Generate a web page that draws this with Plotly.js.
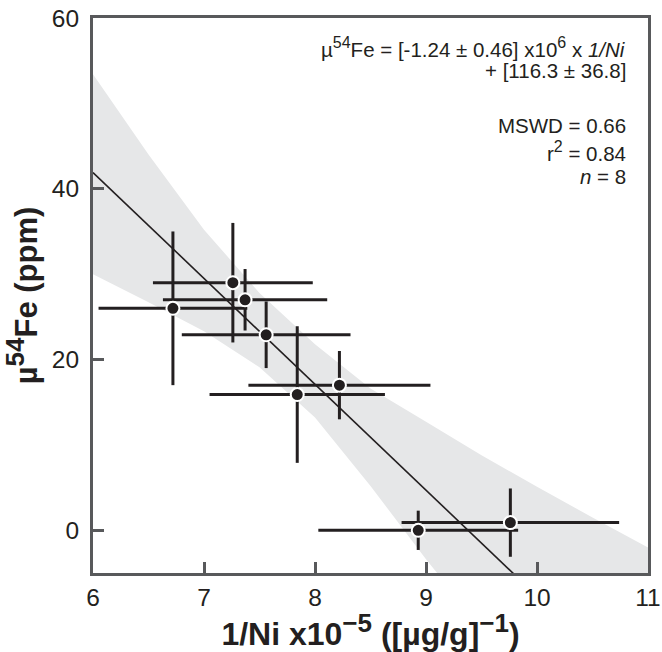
<!DOCTYPE html>
<html>
<head>
<meta charset="utf-8">
<script src="https://cdn.plot.ly/plotly-3.0.1.min.js"></script>
<style>html,body{margin:0;padding:0;background:#fff;}#chart{width:662px;height:652px;}</style>
</head>
<body>
<div id="chart"></div>
<script>
// Data points: 1/Ni x10^-5 and µ54Fe (ppm), with 2-sigma error bars
const xVals = [7.26, 7.37, 6.72, 7.56, 7.84, 8.22, 8.93, 9.76];
const yVals = [29.0, 27.0, 26.0, 22.9, 15.9, 17.0, 0.0, 0.9];
const xErr  = [0.72, 0.74, 0.67, 0.76, 0.79, 0.82, 0.90, 0.98];
const yErr  = [7.0, 3.6, 9.0, 3.9, 8.0, 4.0, 2.3, 4.0];

// Confidence envelope
const bandUpperX = [6, 6.5, 7, 7.5, 8, 8.5, 9, 9.5, 10, 10.5, 11];
const bandUpper  = [53.4, 44.0, 35.2, 27.8, 21.8, 16.6, 12.7, 8.8, 5.1, 1.5, -2.0];
const bandLowerX = [6, 6.5, 7, 7.5, 8, 8.5, 9, 9.1, 11];
const bandLower  = [30.0, 26.7, 23.3, 19.1, 13.2, 5.2, -3.4, -5, -5];

// Regression (from the equation shown on the chart)
const fitSlope = -12.4;
const fitIntercept = 116.3;
const fitX = [6, 11];

const xTicks = [6, 7, 8, 9, 10, 11];
const yTicks = [0, 20, 40, 60];

const ink = '#231f20';
const axisCol = '#58595b';
const FONT = '"Liberation Sans", Arial, Helvetica, sans-serif';

const bandTrace = {
  x: bandUpperX.concat(bandLowerX.slice().reverse()),
  y: bandUpper.concat(bandLower.slice().reverse()),
  type: 'scatter', mode: 'lines', fill: 'toself',
  fillcolor: '#e6e7e8', line: {width: 0, color: 'rgba(0,0,0,0)'},
  hoverinfo: 'skip', showlegend: false
};
const fitTrace = {
  x: fitX, y: fitX.map(v => fitSlope * v + fitIntercept),
  type: 'scatter', mode: 'lines',
  line: {color: ink, width: 1.6}, showlegend: false, hoverinfo: 'skip'
};
const pts = {
  x: xVals, y: yVals, type: 'scatter', mode: 'markers',
  marker: {color: ink, size: 13, line: {color: '#ffffff', width: 2}},
  error_x: {type: 'data', array: xErr, visible: true, color: ink, thickness: 3, width: 0},
  error_y: {type: 'data', array: yErr, visible: true, color: ink, thickness: 3, width: 0},
  showlegend: false
};

const supA = s => '<sup><span style="font-size:16px">' + s + '</span></sup>';
const annFont = {family: FONT, size: 20.5, color: ink};
const annLines = [
  {t: 'µ' + supA('54') + 'Fe = [-1.24 ± 0.46] x10' + supA('6') + ' x <i>1/Ni</i>', y: 56.5},
  {t: '+ [116.3 ± 36.8]', y: 53.8},
  {t: 'MSWD = 0.66', y: 47.45},
  {t: 'r' + supA('2') + ' = 0.84', y: 44.4},
  {t: '<i>n</i> = 8', y: 41.4}
];
const annotations = annLines.map(a => ({
  x: 10.82, y: a.y, xref: 'x', yref: 'y', text: a.t, showarrow: false,
  xanchor: 'right', yanchor: 'middle', align: 'right', font: annFont
}));

const supT = s => '<sup><span style="font-size:26px">' + s + '</span></sup>';

const layout = {
  width: 662, height: 652,
  margin: {l: 93, r: 14, t: 18, b: 79},
  paper_bgcolor: '#ffffff', plot_bgcolor: '#ffffff',
  font: {family: FONT, color: ink},
  showlegend: false,
  xaxis: {
    range: [6, 11], tickvals: xTicks, ticktext: xTicks.map(String),
    showgrid: false, zeroline: false,
    showline: true, linecolor: axisCol, linewidth: 3, mirror: true,
    ticks: 'inside', ticklen: 11, tickwidth: 3, tickcolor: axisCol,
    tickfont: {family: FONT, size: 24.5, color: ink},
    ticklabelstandoff: 1,
    title: {text: '<b>1/Ni x10' + supT('−5') + ' ([µg/g]' + supT('−1') + ')</b>', font: {family: FONT, size: 32, color: ink}, standoff: 0}
  },
  yaxis: {
    range: [-5, 60], tickvals: yTicks, ticktext: yTicks.map(String),
    showgrid: false, zeroline: false,
    showline: true, linecolor: axisCol, linewidth: 3, mirror: true,
    ticks: 'inside', ticklen: 11, tickwidth: 3, tickcolor: axisCol,
    tickfont: {family: FONT, size: 24.5, color: ink},
    ticklabelstandoff: 6,
    title: {text: '<b>µ' + supT('54') + 'Fe (ppm)</b>', font: {family: FONT, size: 31, color: ink}, standoff: 8}
  },
  annotations: annotations
};

Plotly.newPlot('chart', [bandTrace, fitTrace, pts], layout, {displayModeBar: false, staticPlot: true});
</script>
</body>
</html>
